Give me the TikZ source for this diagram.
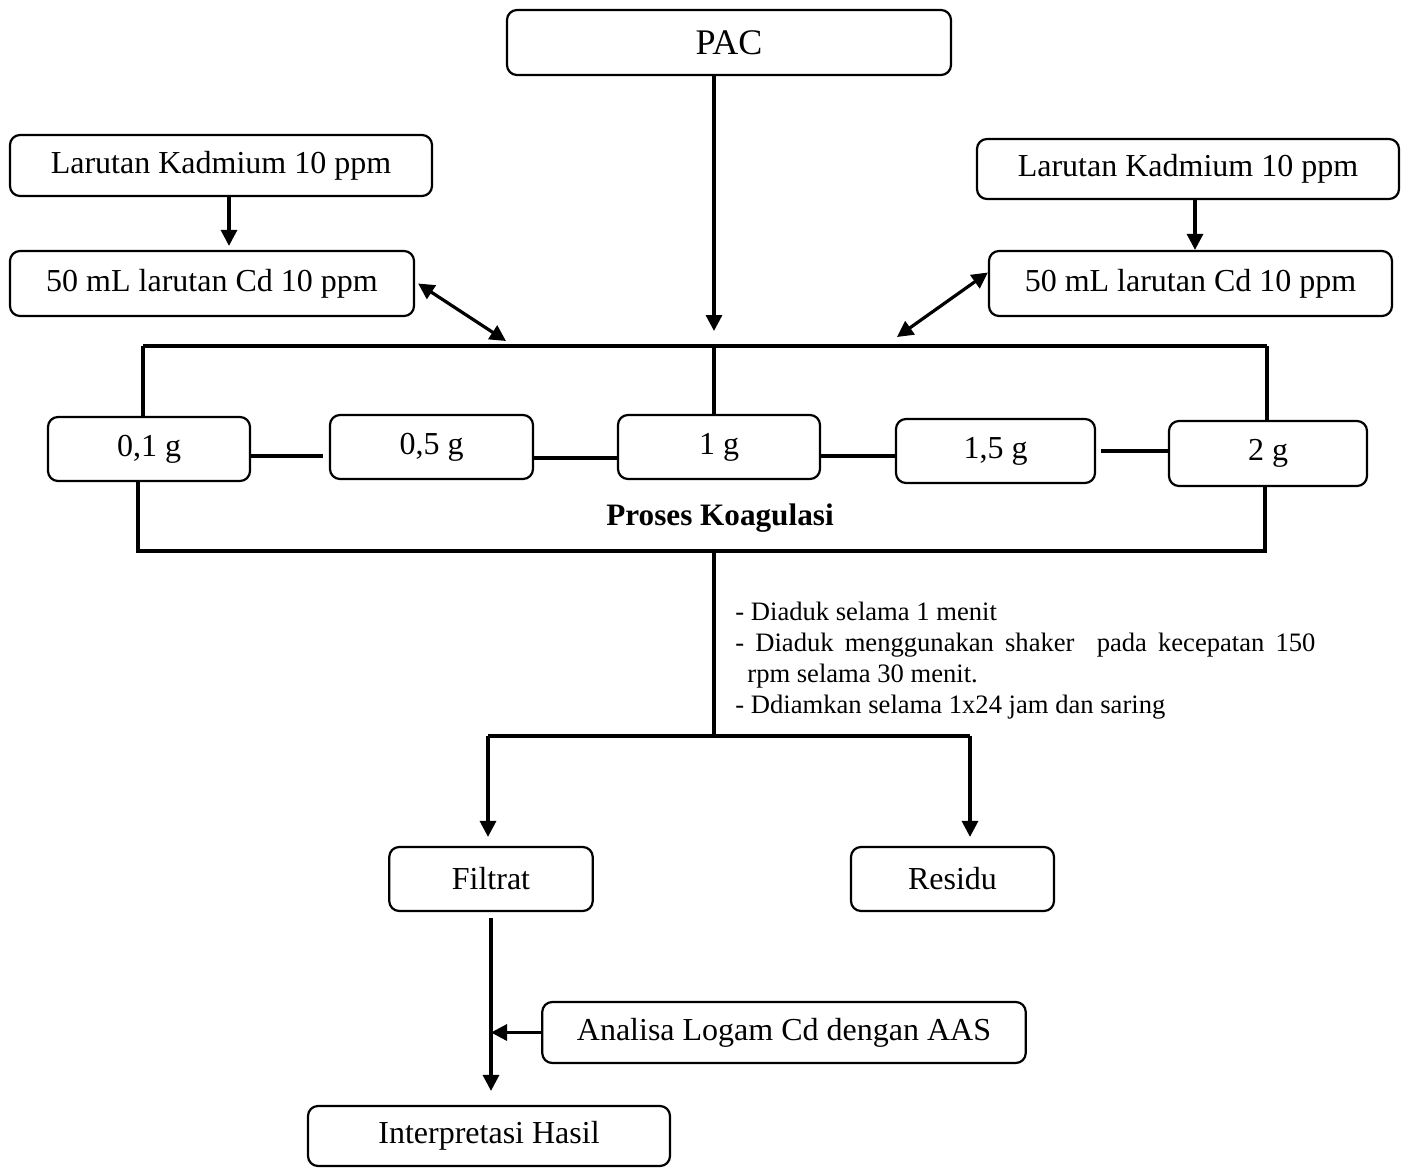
\documentclass[tikz,border=0pt]{standalone}
\usepackage{fontspec}
\setmainfont{Liberation Serif}
\usetikzlibrary{arrows.meta,calc}

\begin{document}
\begin{tikzpicture}[x=0.5pt,y=-0.5pt,
      box/.style={draw,rounded corners=5pt,line width=1.1pt,inner sep=0pt,font=\fontsize{16}{19}\selectfont},
      arr/.style={line width=1.6pt,-{Triangle[length=8pt,width=8pt]}},
      darr/.style={line width=1.6pt,{Triangle[length=8pt,width=8pt]}-{Triangle[length=8pt,width=8pt]}},
      bus/.style={line width=1.6pt}]
      \useasboundingbox (0,0) rectangle (1403,1168);

      \node[box,minimum width=222pt,minimum height=32.5pt] (pac) at (729,42.5) {\fontsize{18}{21}\selectfont PAC};
      \node[box,minimum width=211pt,minimum height=30.5pt] (lkL) at (221,165.5) {Larutan Kadmium 10 ppm};
      \node[box,minimum width=202pt,minimum height=32.5pt] (cdL) at (212,283.5) {50 mL larutan Cd 10 ppm};
      \node[box,minimum width=211pt,minimum height=30pt] (lkR) at (1188,169) {Larutan Kadmium 10 ppm};
      \node[box,minimum width=201.5pt,minimum height=32.5pt] (cdR) at (1190.5,283.5) {50 mL larutan Cd 10 ppm};

      \node[box,minimum width=101pt,minimum height=32pt] (g1) at (149,449) {0,1 g};
      \node[box,minimum width=101.5pt,minimum height=32pt] (g2) at (431.5,447) {0,5 g};
      \node[box,minimum width=101pt,minimum height=32pt] (g3) at (719,447) {1 g};
      \node[box,minimum width=99.5pt,minimum height=32pt] (g4) at (995.5,451) {1,5 g};
      \node[box,minimum width=99pt,minimum height=32.5pt] (g5) at (1268,453.5) {2 g};
      \node[font=\bfseries\fontsize{15.6}{18}\selectfont] (kog) at (720,518) {Proses Koagulasi};

      \node[box,minimum width=101.75pt,minimum height=32pt] (filtrat) at (491,879) {Filtrat};
      \node[box,minimum width=101.5pt,minimum height=32pt] (residu) at (952.5,879) {Residu};
      \node[box,minimum width=241.75pt,minimum height=30.5pt] (aas) at (784,1032.5) {Analisa Logam Cd dengan AAS};
      \node[box,minimum width=181pt,minimum height=30pt] (interp) at (489,1136) {Interpretasi Hasil};

      \node[anchor=north west,align=left,inner sep=0pt,font=\fontsize{13.3}{15.5}\selectfont] (notes) at (735,602)
        {- Diaduk selama 1 menit\\
         \makebox[290pt][s]{- Diaduk menggunakan shaker\ \ pada kecepatan 150}\\
         \hspace*{6pt}rpm selama 30 menit.\\
         - Ddiamkan selama 1x24 jam dan saring};

      \coordinate (pacTip) at (714,331);
      \coordinate (cdLend) at (506,341);
      \coordinate (cdRend) at (897,337);
      \coordinate (tl) at (143,346);
      \coordinate (tr) at (1267,346);
      \coordinate (bl) at (138,551);
      \coordinate (br) at (1265,551);
      \coordinate (sl) at (488,736);
      \coordinate (sr) at (970,736);

      % top part
      \draw[arr] (pac.south -| pacTip) -- (pacTip);
      \draw[arr,shorten >=2pt] ([xshift=4pt]lkL.south) -- ([xshift=4pt]lkL.south |- cdL.north);
      \draw[arr] ([xshift=3.5pt]lkR.south) -- ([xshift=3.5pt]lkR.south |- cdR.north);
      \draw[darr] ([xshift=1.5pt]cdL.east) -- (cdLend);
      \draw[darr] (cdRend) -- ([yshift=5.5pt]cdR.west);

      \draw[bus] (tl) -- (tr);
      \draw[bus] (tl) -- (tl |- g1.north);
      \draw[bus] (tr) -- (tr |- g5.north);
      \draw[bus] (pacTip |- tl) -- (pacTip |- g3.north);
      \draw[bus,shorten >=3pt] ([yshift=-3.5pt]g1.east) -- ([yshift=-3.5pt]g1.east -| g2.west);
      \draw[bus] ([yshift=-5.5pt]g2.east) -- ([yshift=-5.5pt]g2.east -| g3.west);
      \draw[bus] ([yshift=-4.5pt]g3.east) -- ([yshift=-4.5pt]g3.east -| g4.west);
      \draw[bus,shorten <=2.5pt] (g4.east) -- (g4.east -| g5.west);
      \draw[bus] (bl |- g1.south) -- (bl) -- (br) -- (br |- g5.south);

      % bottom part
      \draw[bus] (pacTip |- bl) -- (pacTip |- sl);
      \draw[bus] (sl) -- (sr);
      \draw[arr,shorten >=4.5pt] (sl) -- (sl |- filtrat.north);
      \draw[arr,shorten >=4.5pt] (sr) -- (sr |- residu.north);
      \draw[arr,shorten <=3pt,shorten >=7pt] (filtrat.south) -- (filtrat.south |- interp.north);
      \draw[arr] (aas.west) -- (aas.west -| filtrat.south);
    \end{tikzpicture}
\end{document}
